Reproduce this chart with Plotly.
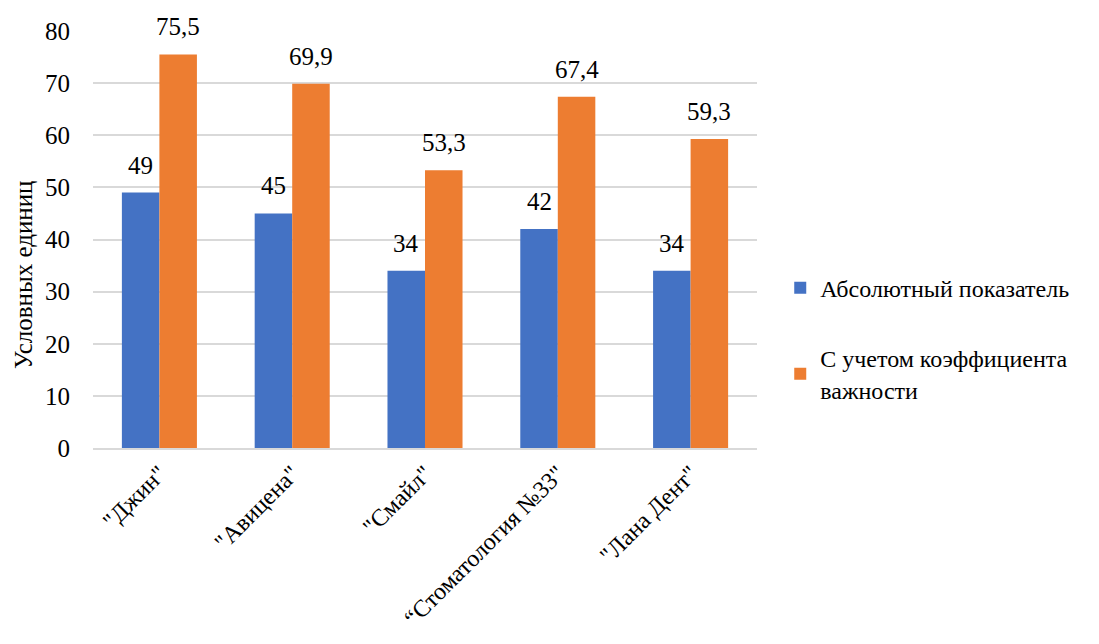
import plotly.graph_objects as go

categories = ['"Джин"', '"Авицена"', '"Смайл"', '“Стоматология №33"', '"Лана Дент"']
absolute = [49, 45, 34, 42, 34]
weighted = [75.5, 69.9, 53.3, 67.4, 59.3]
series_names = ["Абсолютный показатель", "С учетом коэффициента<br>важности"]
y_ticks = [0, 10, 20, 30, 40, 50, 60, 70, 80]

def fmt(v):
    return str(v).replace(".", ",")

FONT = "Times New Roman, Liberation Serif, DejaVu Serif, serif"
W, H = 1099, 644
ML, MR, MT, MB = 93, 342, 31, 196
BARGAP = 0.435
plot_w = W - ML - MR
plot_h = H - MT - MB

fig = go.Figure()
fig.add_trace(go.Bar(
    x=categories, y=absolute, name=series_names[0],
    marker=dict(color="#4472C4", line=dict(width=0)),
    legendgroup="a",
))
fig.add_trace(go.Bar(
    x=categories, y=weighted, name=series_names[1],
    marker=dict(color="#ED7D31", line=dict(width=0)),
    legendgroup="b",
))

cat_w = plot_w / len(categories)
bar_w = cat_w * (1 - BARGAP) / 2
for vals, sign in ((absolute, -1), (weighted, 1)):
    for c, v in zip(categories, vals):
        fig.add_annotation(
            x=c, y=v, xref="x", yref="y", text=fmt(v), showarrow=False,
            xshift=sign * bar_w / 2, yshift=12, yanchor="bottom",
            font=dict(family=FONT, size=25, color="#000000"),
        )

fig.update_layout(
    width=W, height=H,
    margin=dict(l=ML, r=MR, t=MT, b=MB, autoexpand=False),
    paper_bgcolor="white", plot_bgcolor="white",
    font=dict(family=FONT, size=24, color="#000000"),
    barmode="group", bargap=BARGAP, bargroupgap=0,
    legend=dict(
        x=1.035, y=0.262, xanchor="left", yanchor="middle",
        font=dict(family=FONT, size=24, color="#000000"),
        tracegroupgap=36, itemwidth=30,
    ),
    xaxis=dict(
        tickangle=-45, tickfont=dict(family=FONT, size=24),
        showgrid=False, showline=True, linecolor="#D9D9D9", linewidth=2,
        ticks="", automargin=False,
    ),
    yaxis=dict(
        range=[0, 80], tickvals=y_ticks,
        tickfont=dict(family=FONT, size=25),
        showgrid=True, gridcolor="#D9D9D9", gridwidth=1.5,
        zeroline=False, showline=False, ticks="",
        ticklabelstandoff=22, automargin=False,
    ),
    showlegend=True,
)
fig.add_annotation(
    text="Условных единиц", textangle=-90,
    x=(23 - ML) / plot_w, y=(H - MB - 275) / plot_h,
    xref="paper", yref="paper", xanchor="center", yanchor="middle",
    showarrow=False, font=dict(family=FONT, size=25),
)

fig.write_html("out.html")
